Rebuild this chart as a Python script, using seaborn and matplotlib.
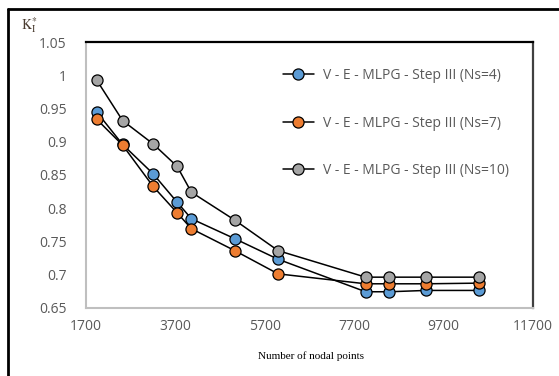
import numpy as np
import pandas as pd
import matplotlib
matplotlib.use("Agg")
import matplotlib.pyplot as plt
from matplotlib.lines import Line2D
import seaborn as sns

# ── data ─────────────────────────────────────────────────
nodes = [1940, 2520, 3200, 3740, 4060, 5030, 6000, 7960, 8490, 9310, 10500]
k_ns4 = [0.945, 0.896, 0.852, 0.809, 0.784, 0.754, 0.723, 0.674, 0.674, 0.676, 0.676]
k_ns7 = [0.934, 0.895, 0.833, 0.793, 0.769, 0.736, 0.701, 0.686, 0.686, 0.686, 0.687]
k_ns10 = [0.993, 0.932, 0.897, 0.863, 0.824, 0.782, 0.736, 0.696, 0.696, 0.696, 0.696]

labels = ["V - E - MLPG - Step III (Ns=4)",
          "V - E - MLPG - Step III (Ns=7)",
          "V - E - MLPG - Step III (Ns=10)"]
colors = ["#5B9BD5", "#ED7D31", "#A5A5A5"]

x_ticks = [1700, 3700, 5700, 7700, 9700, 11700]
y_ticks = [0.65, 0.7, 0.75, 0.8, 0.85, 0.9, 0.95, 1.0, 1.05]
y_ticklabels = ["0.65", "0.7", "0.75", "0.8", "0.85", "0.9", "0.95", "1", "1.05"]

sns.set_style("white")
plt.rcParams["font.family"] = ["Open Sans", "DejaVu Sans"]
TXT = "#595959"

fig = plt.figure(figsize=(5.59, 3.76), dpi=100)
ax = fig.add_axes([0.1538, 0.1817, 0.953 - 0.1538, 0.8875 - 0.1817])

for ys, col in zip([k_ns4, k_ns7, k_ns10], colors):
    df = pd.DataFrame({"n": nodes, "k": ys})
    sns.lineplot(data=df, x="n", y="k", ax=ax, color="black", linewidth=1.1,
                 marker="o", markersize=8, markerfacecolor=col,
                 markeredgecolor="black", markeredgewidth=0.9)

ax.set_xlim(1700, 11700)
ax.set_ylim(0.65, 1.05)
ax.set_xticks(x_ticks)
ax.set_xticklabels([str(v) for v in x_ticks])
ax.set_yticks(y_ticks)
ax.set_yticklabels(y_ticklabels)
ax.tick_params(axis="both", length=0, labelsize=10, labelcolor=TXT)
ax.tick_params(axis="y", pad=14)
ax.tick_params(axis="x", pad=8)
ax.set_xlabel("")
ax.set_ylabel("")

ax.spines["left"].set_color("#BFBFBF")
ax.spines["bottom"].set_color("#BFBFBF")
ax.spines["left"].set_linewidth(1.5)
ax.spines["bottom"].set_linewidth(1.5)
ax.spines["top"].set_color("black")
ax.spines["top"].set_linewidth(1.6)
ax.spines["right"].set_color("#404040")
ax.spines["right"].set_linewidth(1.6)

handles = [Line2D([0], [0], color="black", linewidth=1.1, marker="o", markersize=8,
                  markerfacecolor=c, markeredgecolor="black", markeredgewidth=0.9)
           for c in colors]
leg = ax.legend(handles, labels, loc="upper left", bbox_to_anchor=(283 / 559, 1 - 68 / 376),
                bbox_transform=fig.transFigure, frameon=False, fontsize=10,
                labelspacing=2.35, handlelength=2.2, handletextpad=0.65,
                borderpad=0, borderaxespad=0)
for t in leg.get_texts():
    t.set_color(TXT)

# axis titles
fig.text(311 / 559, 1 - 356 / 376, "Number of nodal points", ha="center", va="center",
         fontsize=8, family="Liberation Serif", color="black")
fig.text(21 / 559, 1 - 25 / 376, r"$\mathrm{K}_\mathrm{I}^{*}$", ha="left", va="center",
         fontsize=10, family="Liberation Serif", color="#4a3c30",
         math_fontfamily="stix")

# outer frame (left and top edges)
fig.add_artist(Line2D([7.5 / 559, 7.5 / 559], [0, 1 - 9 / 376], transform=fig.transFigure,
                      color="black", linewidth=2))
fig.add_artist(Line2D([7.5 / 559, 1], [1 - 9 / 376, 1 - 9 / 376], transform=fig.transFigure,
                      color="black", linewidth=2))

fig.savefig("out.png", dpi=100)
